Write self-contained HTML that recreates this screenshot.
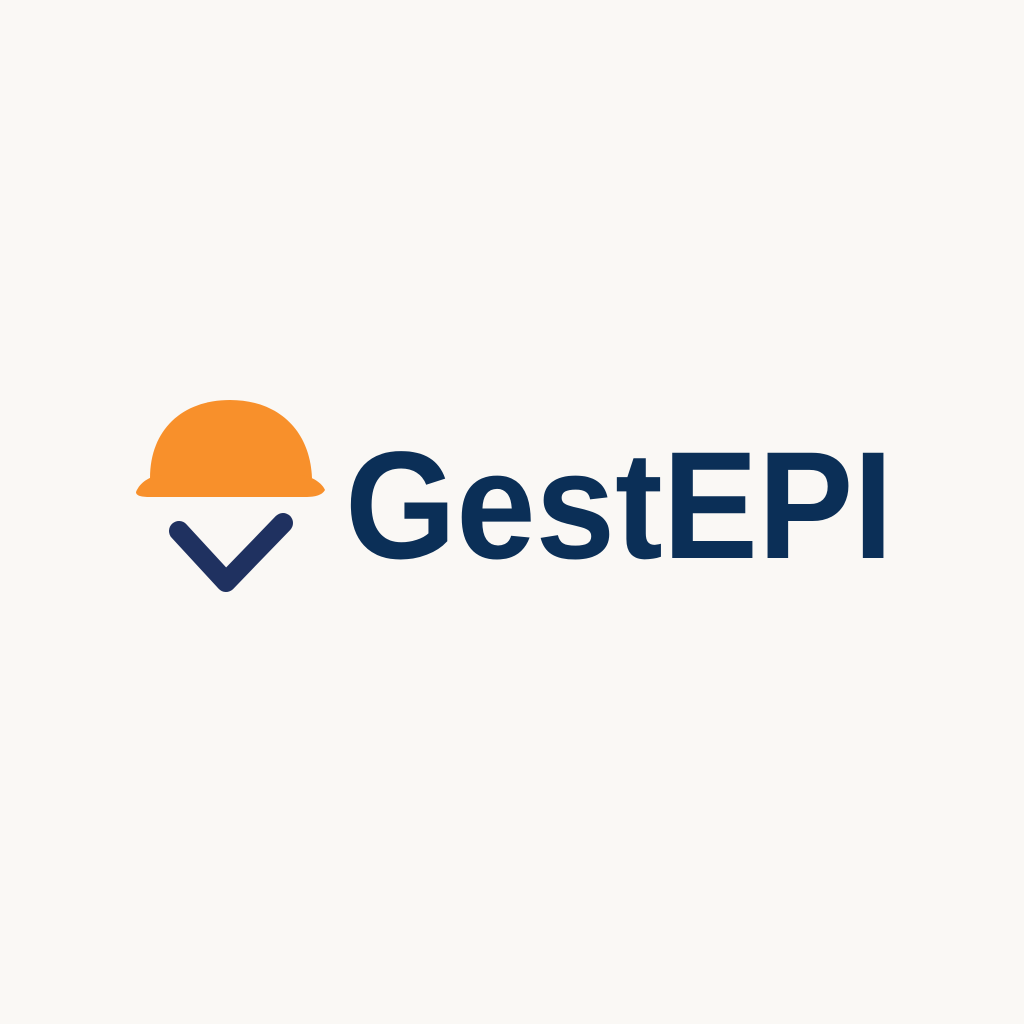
<!DOCTYPE html>
<html>
<head>
<meta charset="utf-8">
<style>
  html,body{margin:0;padding:0;background:#faf8f5;}
  svg{display:block;}
</style>
</head>
<body>
<svg width="1024" height="1024" viewBox="0 0 1024 1024">
  <rect width="1024" height="1024" fill="#faf8f5"/>
  <g>
    <path d="M150,478 C150,430 182,400 230,400 C278,400 310,430 312,478 Z" fill="#f8902b"/>
    <path d="M136,492 C140,482 150,476 162,475 L300,475 C312,476 322,483 325,490 C322,495 316,497 305,497 L150,497 C142,497 136,496 136,492 Z" fill="#f8902b"/>
  </g>
  <polyline points="179,531 226,582 283,523" fill="none" stroke="#1f3160" stroke-width="20" stroke-linecap="round" stroke-linejoin="round"/>
  <text x="345" y="558" textLength="548" lengthAdjust="spacingAndGlyphs" font-family="'Liberation Sans', sans-serif" font-weight="bold" font-size="153" fill="#0b2f57">GestEPI</text>
</svg>
</body>
</html>
